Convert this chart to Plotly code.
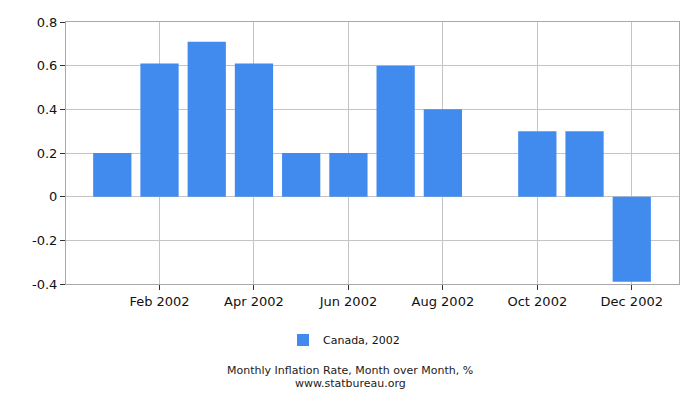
import plotly.graph_objects as go

months = ["Jan 2002", "Feb 2002", "Mar 2002", "Apr 2002", "May 2002", "Jun 2002",
          "Jul 2002", "Aug 2002", "Sep 2002", "Oct 2002", "Nov 2002", "Dec 2002"]
values = [0.2, 0.61, 0.71, 0.61, 0.2, 0.2, 0.6, 0.4, 0.0, 0.3, 0.3, -0.39]
tick_idx = [1, 3, 5, 7, 9, 11]
tick_text = [months[i] for i in tick_idx]
y_ticks = [-0.4, -0.2, 0, 0.2, 0.4, 0.6, 0.8]
y_labels = ["-0.4", "-0.2", "0", "0.2", "0.4", "0.6", "0.8"]

fig = go.Figure()
fig.add_trace(go.Bar(
    x=list(range(len(months))), y=values, name="Canada, 2002",
    marker=dict(color="#418bef", line=dict(width=0)),
    hovertext=months,
))

# page body has an 8px margin, so margins are shifted to compensate
fig.update_layout(
    width=700, height=400,
    margin=dict(l=58, r=29, t=14, b=124, autoexpand=False),
    plot_bgcolor="white", paper_bgcolor="white",
    font=dict(family="DejaVu Sans", size=13, color="#111"),
    bargap=0.19,
    showlegend=True,
    legend=dict(orientation="h", xref="container", x=0.48, xanchor="center",
                yref="container", y=0.17, yanchor="middle",
                font=dict(size=11)),
    annotations=[
        dict(text="Monthly Inflation Rate, Month over Month, %",
             x=0.4635, xref="paper", y=-0.332, yref="paper", yanchor="middle",
             showarrow=False, font=dict(size=11, color="#222")),
        dict(text="www.statbureau.org",
             x=0.4635, xref="paper", y=-0.38, yref="paper", yanchor="middle",
             showarrow=False, font=dict(size=11, color="#222")),
    ],
)
fig.update_xaxes(
    range=[-0.98, 12.0], tickvals=tick_idx, ticktext=tick_text,
    showgrid=True, gridcolor="#c4c4c4", gridwidth=1,
    showline=True, linecolor="#a8a8a8", mirror=True,
    ticks="outside", ticklen=5, tickcolor="#333", zeroline=False,
    automargin=False,
)
fig.update_yaxes(
    range=[-0.4, 0.8], tickvals=y_ticks, ticktext=y_labels,
    showgrid=True, gridcolor="#c4c4c4", gridwidth=1,
    showline=True, linecolor="#a8a8a8", mirror=True,
    ticks="outside", ticklen=5, tickcolor="#333",
    zeroline=True, zerolinecolor="#c4c4c4", zerolinewidth=1,
    automargin=False,
)

fig.write_html("out.html")
